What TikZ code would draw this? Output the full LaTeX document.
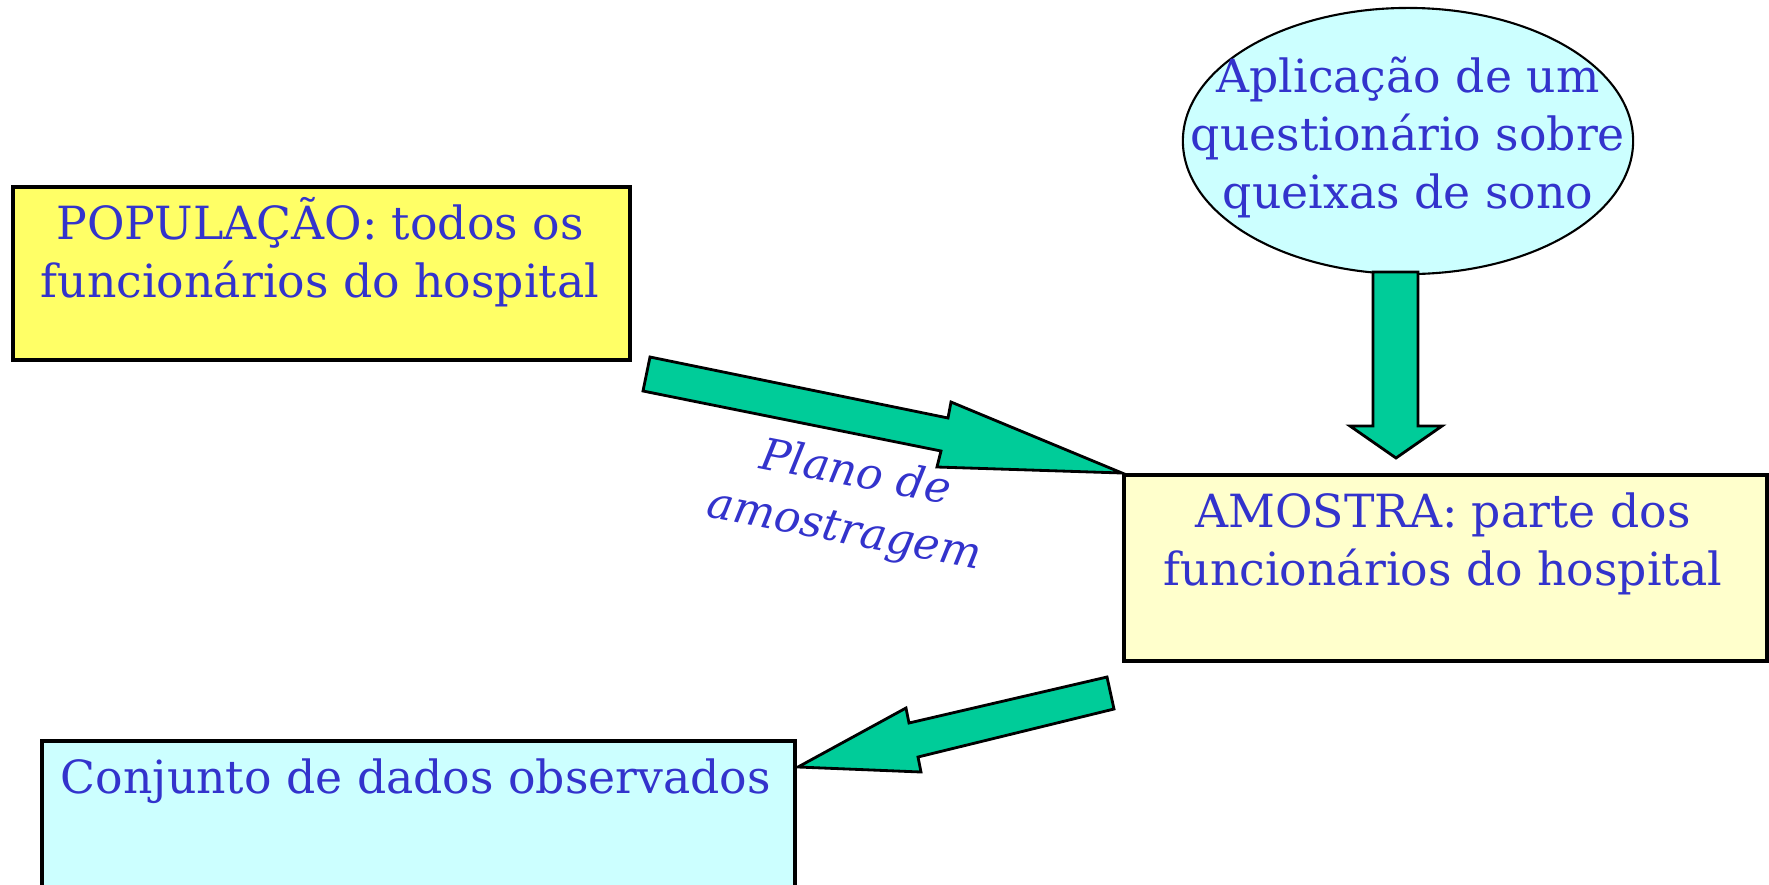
\documentclass[tikz,border=0pt]{standalone}
\usepackage{fontspec}
\setmainfont{DejaVu Serif}
\usetikzlibrary{shapes.geometric,calc}
\definecolor{txtblue}{HTML}{3333CC}
\definecolor{arrgreen}{HTML}{00CC99}
\definecolor{popyellow}{HTML}{FFFF66}
\definecolor{amoyellow}{HTML}{FFFFCC}
\definecolor{lightcyan}{HTML}{CCFFFF}
\tikzset{
  boxshape/.style={draw=black, line width=1pt, rectangle, inner sep=0pt, anchor=north west},
  bodytext/.style={text=txtblue, font=\fontsize{13}{16.4}\selectfont, align=center, inner sep=0pt},
  blockarrow/.style={draw=black, line width=0.8pt, fill=arrgreen, line join=miter},
}
\begin{document}
\begin{tikzpicture}[x=0.01cm,y=-0.01cm]
\clip (0,0) rectangle (1769,884);
\fill[white] (0,0) rectangle (1769,884);

% boxes (text nodes anchored at the baseline of their last line)
\node[boxshape, fill=popyellow, minimum width=6.17cm, minimum height=1.73cm] (pop) at (11,185) {};
\node[bodytext, anchor=base] (poptext) at (320,297) {POPULAÇÃO: todos os\\funcionários do hospital};

\node[boxshape, fill=amoyellow, minimum width=6.43cm, minimum height=1.86cm] (amo) at (1122,473) {};
\node[bodytext, anchor=base] (amotext) at (1443,585) {AMOSTRA: parte dos\\funcionários do hospital};

\node[boxshape, fill=lightcyan, minimum width=7.53cm, minimum height=2.2cm] (conj) at (40,739) {};
\node[bodytext, anchor=base] (conjtext) at (416,793) {Conjunto de dados observados};

% ellipse
\node[draw=black, line width=0.6pt, ellipse, fill=lightcyan, minimum width=4.5cm, minimum height=2.66cm, inner sep=0pt] (quest) at (1408,141) {};
\node[bodytext, anchor=base] (questtext) at (1408,208) {Aplicação de um\\questionário sobre\\queixas de sono};

% block arrows
\draw[blockarrow] (650,357) -- (948,418) -- (951,402) -- (amo.north west) -- (937,467) -- (941,451) -- (643,391) -- cycle;
\draw[blockarrow] (1373,272) -- (1373,426) -- (1350,426) -- (1396,458) -- (1442,426) -- (1418,426) -- (1418,272) -- cycle;
\draw[blockarrow] (1107,677) -- (909,723) -- (906,708) -- (798,767) -- (921,772) -- (918,757) -- (1114,709) -- cycle;

% label
\node[text=txtblue, font=\fontsize{12.5}{16.4}\itshape, align=center, inner sep=0pt, rotate=-11, anchor=base] (plano) at (842,543) {Plano de\\amostragem};
\end{tikzpicture}
\end{document}
